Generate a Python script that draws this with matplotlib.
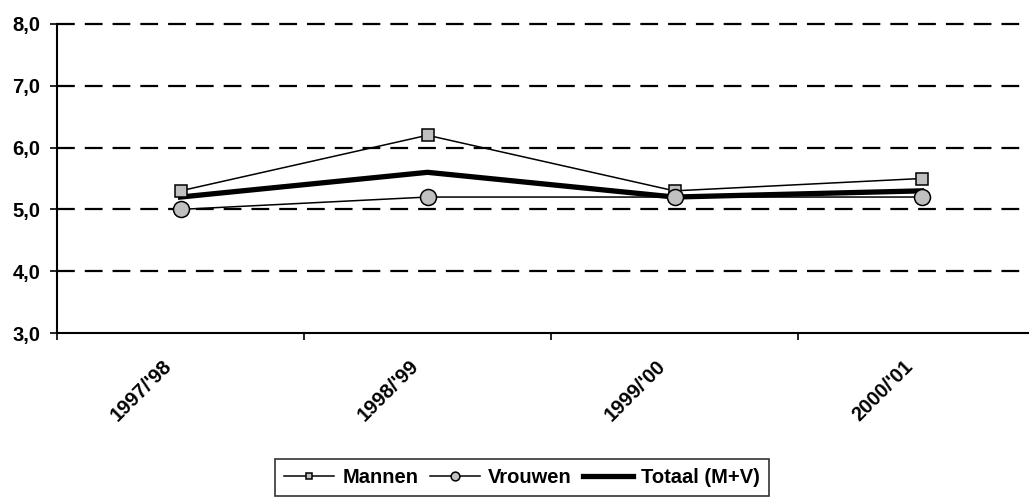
import matplotlib.pyplot as plt
import numpy as np

plt.rcParams['font.family'] = ['Liberation Sans', 'DejaVu Sans']

jaren = ["1997/'98", "1998/'99", "1999/'00", "2000/'01"]
mannen = [5.3, 6.2, 5.3, 5.5]
vrouwen = [5.0, 5.2, 5.2, 5.2]
totaal = [5.2, 5.6, 5.2, 5.3]
y_ticks = [3.0, 4.0, 5.0, 6.0, 7.0, 8.0]

W, H = 1029, 500
fig = plt.figure(figsize=(W / 100, H / 100), dpi=100)
# plot area runs past the right edge of the picture, as in the original
ax = fig.add_axes([57 / W, (H - 333) / H, (1045 - 57) / W, 309 / H])

x = np.arange(len(jaren))
ax.plot(x, totaal, color='black', lw=3.8, solid_joinstyle='miter', zorder=3,
        label='Totaal (M+V)')
ax.plot(x, mannen, color='black', lw=1.1, marker='s', ms=8.5, mfc='#c0c0c0',
        mec='black', mew=1.1, zorder=4, label='Mannen')
ax.plot(x, vrouwen, color='black', lw=1.1, marker='o', ms=11.5, mfc='#c0c0c0',
        mec='black', mew=1.1, zorder=5, label='Vrouwen')

ax.set_xlim(-0.5, len(jaren) - 0.5)
ax.set_ylim(3.0, 8.0)
ax.set_yticks(y_ticks)
ax.set_yticklabels([f"{v:.1f}".replace('.', ',') for v in y_ticks],
                   fontsize=14.5, fontweight='bold')
# labels sit slightly left of the category centre (Excel-style rotated labels)
ax.set_xticks(x - 0.075)
ax.set_xticklabels(jaren, rotation=45, ha='right', rotation_mode='anchor',
                   fontsize=14.5, fontweight='bold')
ax.set_xticks(np.arange(len(jaren) + 1) - 0.5, minor=True)
ax.tick_params(axis='x', which='major', length=0, pad=17)
ax.tick_params(axis='x', which='minor', length=5, width=1.2, direction='out')
ax.tick_params(axis='y', length=5, width=1.2, direction='out', pad=7)

for v in y_ticks[1:]:
    ax.axhline(v, color='black', lw=1.6, ls=(0, (8, 4.5)), zorder=1,
               clip_on=False)

for s in ['top', 'right']:
    ax.spines[s].set_visible(False)
ax.spines['left'].set_linewidth(1.5)
ax.spines['bottom'].set_linewidth(1.5)

h, l = ax.get_legend_handles_labels()
order = [1, 2, 0]
leg = fig.legend([h[i] for i in order], [l[i] for i in order],
                 loc='upper left', bbox_to_anchor=(275 / W, 1 - 459 / H),
                 ncol=3, frameon=True, fancybox=False, borderaxespad=0,
                 prop={'weight': 'bold', 'size': 14.5}, handlelength=2.5,
                 columnspacing=0.55, handletextpad=0.4, markerscale=0.55,
                 borderpad=0.45)
leg.get_frame().set_edgecolor('black')
leg.get_frame().set_linewidth(1.2)

fig.savefig('out.png', dpi=100)
